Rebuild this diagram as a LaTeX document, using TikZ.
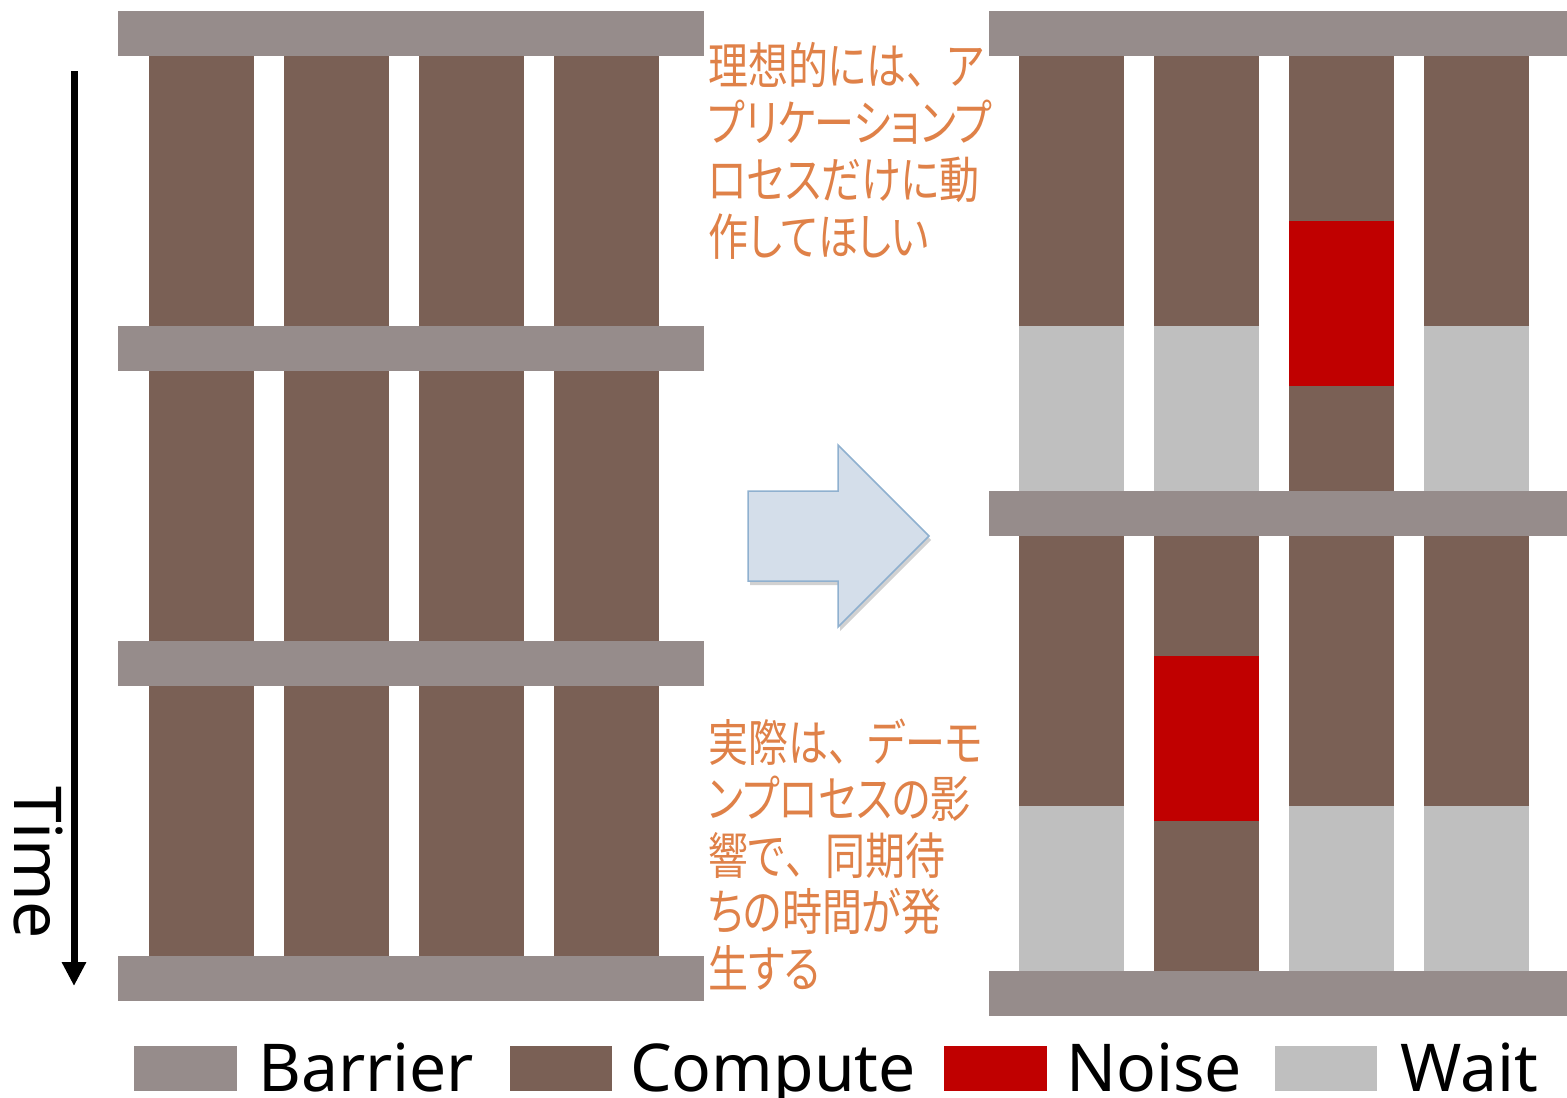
\documentclass[tikz,border=0pt]{standalone}
\usepackage{fontspec}
\setsansfont{Noto Sans}
\newfontfamily\jpfont[RawFeature={+palt},FakeStretch=0.8]{Noto Sans CJK JP}
\newfontfamily\jpfull[FakeStretch=0.8]{Noto Sans CJK JP}
\newfontfamily\lgfont{Noto Sans}
\newcommand\jptouten{{\jpfull 、}}
\usetikzlibrary{arrows.meta,shadows}
\definecolor{cBarrier}{RGB}{150,140,139}
\definecolor{cCompute}{RGB}{122,96,85}
\definecolor{cNoise}{RGB}{192,0,0}
\definecolor{cWait}{RGB}{191,191,191}
\definecolor{cOrange}{RGB}{223,129,72}
\definecolor{cArrowFill}{RGB}{212,222,234}
\definecolor{cArrowDraw}{RGB}{143,176,207}
\tikzset{
  barrier/.style={fill=cBarrier},
  compute/.style={fill=cCompute},
  noise/.style={fill=cNoise},
  wait/.style={fill=cWait},
  jptext/.style={anchor=base west, inner sep=0pt, text=cOrange, font=\jpfont\fontsize{50}{57}\selectfont},
  lgtext/.style={anchor=base west, inner sep=0pt, font=\lgfont\fontsize{66}{80}\selectfont},
  timearrow/.style={line width=7pt, -{Triangle[width=23pt,length=24pt]}},
  blockarrow/.style={fill=cArrowFill, draw=cArrowDraw, line width=1.5pt, line join=miter,
    drop shadow={shadow xshift=2pt, shadow yshift=-4pt, opacity=0.3, fill=black!60}}
}
\begin{document}
\begin{tikzpicture}[x=1pt,y=-1pt]
\useasboundingbox (0,0) rectangle (1567,1098);

% ---------- left panel ----------
\foreach \x in {149,284,419,554}{
  \fill[compute] (\x,55) rectangle ++(105,271);
  \fill[compute] (\x,371) rectangle ++(105,270);
  \fill[compute] (\x,686) rectangle ++(105,270);
}
\foreach \y in {11,326,641,956}{
  \fill[barrier] (118,\y) rectangle ++(586,45);
}

% ---------- right panel ----------
% column 1
\fill[compute] (1019,55) rectangle (1124,326);
\fill[wait]    (1019,326) rectangle (1124,491);
\fill[compute] (1019,536) rectangle (1124,806);
\fill[wait]    (1019,806) rectangle (1124,971);
% column 2
\fill[compute] (1154,55) rectangle (1259,326);
\fill[wait]    (1154,326) rectangle (1259,491);
\fill[compute] (1154,536) rectangle (1259,656);
\fill[noise]   (1154,656) rectangle (1259,821);
\fill[compute] (1154,821) rectangle (1259,971);
% column 3
\fill[compute] (1289,55) rectangle (1394,221);
\fill[noise]   (1289,221) rectangle (1394,386);
\fill[compute] (1289,386) rectangle (1394,491);
\fill[compute] (1289,536) rectangle (1394,806);
\fill[wait]    (1289,806) rectangle (1394,971);
% column 4
\fill[compute] (1424,55) rectangle (1529,326);
\fill[wait]    (1424,326) rectangle (1529,491);
\fill[compute] (1424,536) rectangle (1529,806);
\fill[wait]    (1424,806) rectangle (1529,971);
\foreach \y in {11,491,971}{
  \fill[barrier] (989,\y) rectangle ++(578,45);
}

% ---------- time arrow ----------
\coordinate (tstart) at (74,71);
\coordinate (tend) at (74,986);
\draw[timearrow] (tstart) -- (tend);
\node[lgtext, rotate=-90] (time) at (14,786) {Time};

% ---------- block arrow ----------
\draw[blockarrow] (748,491) -- (838,491) -- (838,445) -- (929,536) -- (838,627) -- (838,581) -- (748,581) -- cycle;

% ---------- texts ----------
\node[jptext] (ia) at (708,84)  {理想的には\jptouten ア};
\node[jptext] (ib) at (708,141) {プリケーションプ};
\node[jptext] (ic) at (708,198) {ロセスだけに動};
\node[jptext] (id) at (708,255) {作してほしい};

\node[jptext] (ra) at (708,761) {実際は\jptouten デーモ};
\node[jptext] (rb) at (708,817) {ンプロセスの影};
\node[jptext] (rc) at (708,874) {響で\jptouten 同期待};
\node[jptext] (rd) at (708,930) {ちの時間が発};
\node[jptext] (re) at (708,987) {生する};

% ---------- legend ----------
\fill[barrier] (134,1046) rectangle (237,1091);
\node[lgtext] (lb) at (258,1091) {Barrier};
\fill[compute] (510,1046) rectangle (612,1091);
\node[lgtext] (lc) at (630,1091) {Compute};
\fill[noise]   (944,1046) rectangle (1047,1091);
\node[lgtext] (ln) at (1066,1091) {Noise};
\fill[wait]    (1275,1046) rectangle (1377,1091);
\node[lgtext] (lw) at (1400,1091) {Wait};
\end{tikzpicture}
\end{document}
